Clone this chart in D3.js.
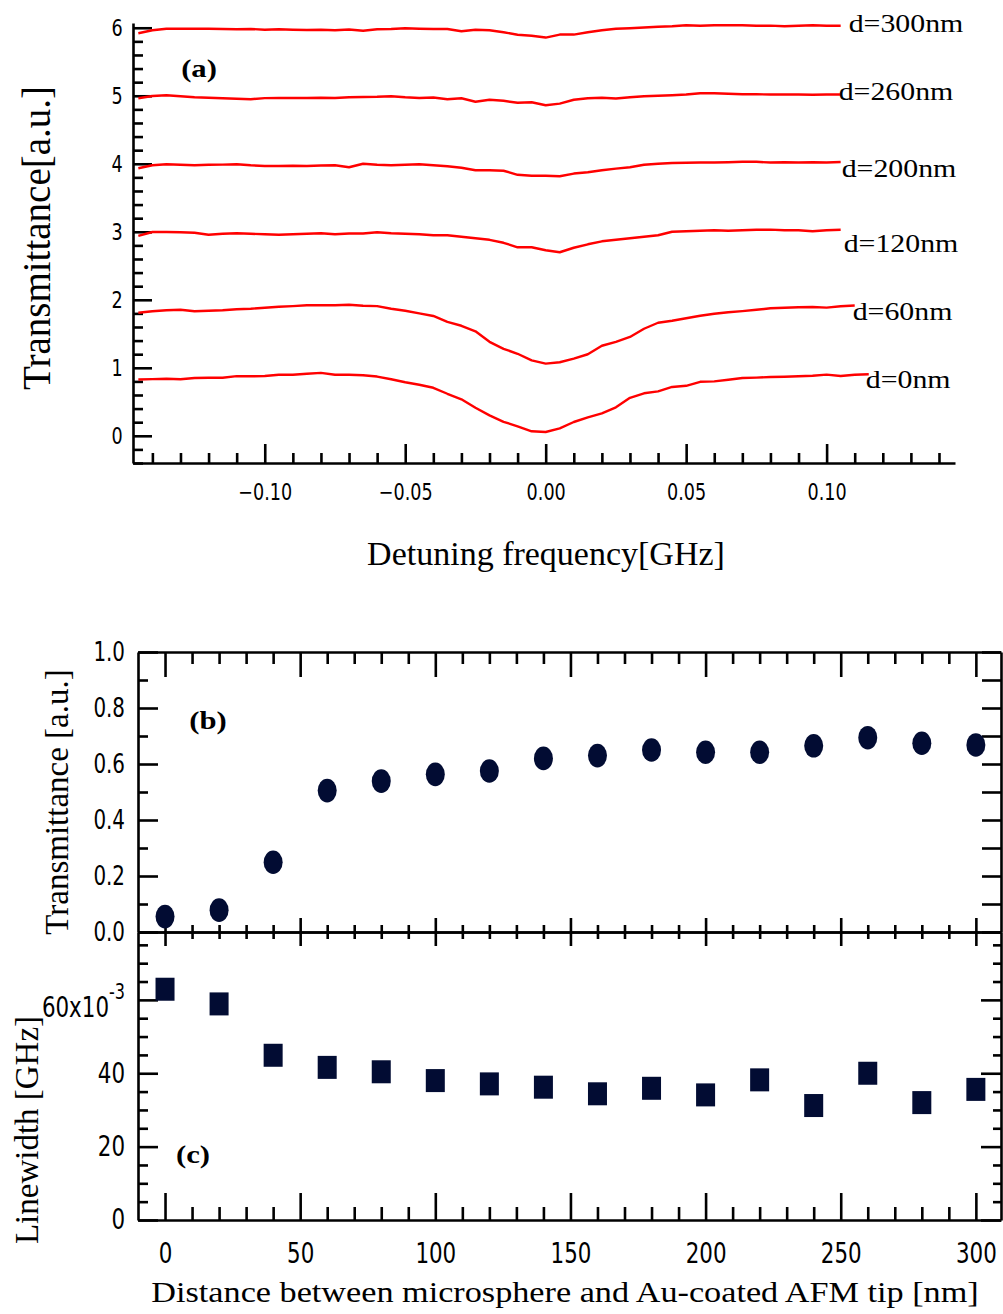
<!DOCTYPE html>
<html>
<head>
<meta charset="utf-8">
<script src="https://cdn.jsdelivr.net/npm/d3@7"></script>
<style>
body { margin: 0; background: #fff; }
svg { display: block; background: #fff; }
.serif { font-family: "Liberation Serif", "Times New Roman", serif; fill: #000; }
</style>
</head>
<body>
<svg width="1003" height="1314"></svg>
<script>
const svg = d3.select('svg');

// ---- panel (a): transmission spectra, offset by 1 per curve ----
const freqGHz = [-0.145,-0.14,-0.135,-0.13,-0.125,-0.12,-0.115,-0.11,-0.105,-0.1,-0.095,-0.09,-0.085,-0.08,-0.075,-0.07,-0.065,-0.06,-0.055,-0.05,-0.045,-0.04,-0.035,-0.03,-0.025,-0.02,-0.015,-0.01,-0.005,0,0.005,0.01,0.015,0.02,0.025,0.03,0.035,0.04,0.045,0.05,0.055,0.06,0.065,0.07,0.075,0.08,0.085,0.09,0.095,0.1,0.105,0.11,0.115];

const d0 = [0.828,0.834,0.838,0.831,0.849,0.853,0.853,0.878,0.875,0.879,0.897,0.897,0.912,0.926,0.897,0.897,0.890,0.871,0.831,0.787,0.750,0.706,0.618,0.537,0.412,0.301,0.206,0.140,0.066,0.056,0.110,0.203,0.272,0.331,0.419,0.559,0.625,0.654,0.718,0.735,0.794,0.801,0.824,0.849,0.856,0.865,0.868,0.875,0.882,0.900,0.879,0.897,0.904];
const d60 = [1.809,1.831,1.846,1.853,1.831,1.838,1.846,1.860,1.868,1.882,1.897,1.907,1.919,1.919,1.919,1.926,1.912,1.907,1.868,1.838,1.801,1.762,1.674,1.618,1.537,1.382,1.279,1.206,1.110,1.062,1.081,1.135,1.199,1.324,1.382,1.453,1.574,1.662,1.691,1.728,1.765,1.794,1.816,1.834,1.853,1.875,1.882,1.890,1.893,1.885,1.904,1.915];
const d120 = [2.941,2.997,2.997,2.993,2.985,2.956,2.971,2.978,2.971,2.963,2.956,2.963,2.971,2.978,2.963,2.974,2.974,2.993,2.978,2.971,2.963,2.949,2.949,2.926,2.904,2.882,2.838,2.772,2.772,2.728,2.699,2.765,2.816,2.860,2.882,2.904,2.926,2.949,3.000,3.007,3.015,3.022,3.015,3.022,3.029,3.032,3.022,3.022,3.007,3.022,3.029];
const d200 = [3.934,3.978,3.993,3.985,3.978,3.985,3.988,3.993,3.978,3.968,3.968,3.971,3.968,3.974,3.978,3.949,4.000,3.985,3.978,3.985,3.993,3.978,3.963,3.941,3.904,3.904,3.897,3.838,3.824,3.824,3.816,3.856,3.875,3.904,3.929,3.949,3.985,4.000,4.012,4.015,4.018,4.018,4.022,4.029,4.029,4.018,4.022,4.018,4.022,4.018,4.026];
const d260 = [4.963,4.996,5.007,4.993,4.978,4.971,4.963,4.956,4.949,4.966,4.968,4.968,4.968,4.971,4.968,4.978,4.982,4.985,4.993,4.978,4.968,4.974,4.949,4.963,4.912,4.941,4.926,4.897,4.904,4.860,4.885,4.941,4.963,4.971,4.959,4.978,4.993,5.000,5.007,5.018,5.037,5.037,5.029,5.022,5.022,5.019,5.018,5.018,5.015,5.018,5.018];
const d300 = [5.919,5.963,5.985,5.985,5.988,5.985,5.981,5.978,5.982,5.971,5.978,5.971,5.966,5.971,5.963,5.975,5.956,5.978,5.981,5.993,5.985,5.981,5.981,5.949,5.971,5.963,5.934,5.897,5.882,5.856,5.900,5.900,5.934,5.963,5.985,5.993,6.003,6.015,6.022,6.037,6.029,6.037,6.037,6.037,6.029,6.032,6.022,6.029,6.037,6.029,6.029];

const spectra = [d0, d60, d120, d200, d260, d300];
const curveLabels = ['d=0nm', 'd=60nm', 'd=120nm', 'd=200nm', 'd=260nm', 'd=300nm'];
// label offset from the end of each curve (px)
const labelDx = [-3, -2, 3, 1, -2, 8];
const labelDy = [14, 14.5, 22, 15, 5.5, 6.2];

// ---- panels (b) and (c) ----
const distNm = [0, 20, 40, 60, 80, 100, 120, 140, 160, 180, 200, 220, 240, 260, 280, 300];
const transB = [0.055, 0.078, 0.249, 0.505, 0.539, 0.563, 0.575, 0.620, 0.630, 0.650, 0.642, 0.642, 0.665, 0.694, 0.674, 0.668];
const linewidthC = [62.9, 58.9, 44.9, 41.6, 40.4, 38.0, 37.1, 36.2, 34.4, 35.9, 34.1, 38.2, 31.2, 40.0, 32.0, 35.6]; // x10^-3 GHz

const narrow = '"Liberation Sans Narrow","Arial Narrow","DejaVu Sans Condensed",sans-serif';
const squeeze = 'scale(0.85,1)';   // tick fonts in the figure are narrower than what we have
const markColor = '#020c33';

function drawAxis(gen, x, y, size) {
    const g = svg.append('g')
        .attr('transform', `translate(${x},${y})`)
        .call(gen)
        .attr('font-family', narrow)
        .attr('font-size', size || 20);
    g.selectAll('path, line').attr('stroke', '#000').attr('stroke-width', 2.6);
    g.selectAll('text').attr('fill', '#000').attr('transform', squeeze).style('font-stretch', 'condensed');
    return g;
}
function minorAxis(gen, x, y) {
    const g = drawAxis(gen.tickFormat(() => ''), x, y);
    g.select('.domain').remove();
}

// scales
const xA = d3.scaleLinear().domain([-0.1469, 0.1457]).range([133, 955]);
const yA = d3.scaleLinear().domain([-0.4, 6.07]).range([463, 23]);

const xB = d3.scaleLinear().domain([-10, 309.3]).range([138, 1001]);
const yB = d3.scaleLinear().domain([0, 1]).range([932, 652]);
const yC = d3.scaleLinear().domain([0, 78.5]).range([1220, 932]);

// panel (a) axes
const aXMajor = [-0.1, -0.05, 0, 0.05, 0.1];
const aXMinor = d3.range(-14, 15).map(i => i / 100).filter(v => Math.round(v * 100) % 5 !== 0);
const aYMinor = d3.range(-2, 31).filter(i => i % 5 !== 0).map(i => i / 5);

drawAxis(d3.axisBottom(xA).tickValues(aXMajor).tickSize(-19).tickSizeOuter(0).tickPadding(21)
    .tickFormat(d3.format('.2f')), 0, 463, 23);
minorAxis(d3.axisBottom(xA).tickValues(aXMinor).tickSize(-10), 0, 463);
drawAxis(d3.axisLeft(yA).tickValues([0, 1, 2, 3, 4, 5, 6]).tickSize(-19).tickSizeOuter(0).tickPadding(12)
    .tickFormat(d3.format('d')), 133, 0, 23);
minorAxis(d3.axisLeft(yA).tickValues(aYMinor).tickSize(-10), 133, 0);

// spectra
const line = d3.line()
    .x((d, i) => xA(freqGHz[i]))
    .y(d => yA(d));

svg.append('g').selectAll('path')
    .data(spectra)
    .join('path')
    .attr('d', line)
    .attr('fill', 'none')
    .attr('stroke', '#ff0000')
    .attr('stroke-width', 2.4)
    .attr('stroke-linejoin', 'round');

spectra.forEach((s, k) => {
    const n = s.length - 1;
    svg.append('g')
        .attr('transform', `translate(${xA(freqGHz[n]) + labelDx[k]},${yA(s[n]) + labelDy[k]}) scale(1.17,1)`)
        .append('text')
        .attr('class', 'serif')
        .attr('font-size', 25.5)
        .text(curveLabels[k]);
});

svg.append('g').attr('transform', 'translate(199,77) scale(1.18,1)')
    .append('text').attr('class', 'serif').attr('font-size', 26).attr('font-weight', 'bold')
    .attr('text-anchor', 'middle').text('(a)');

svg.append('text').attr('class', 'serif')
    .attr('transform', 'translate(50,238) rotate(-90)')
    .attr('text-anchor', 'middle').attr('font-size', 39)
    .text('Transmittance[a.u.]');

svg.append('text').attr('class', 'serif')
    .attr('x', 546).attr('y', 565)
    .attr('font-size', 34)
    .attr('text-anchor', 'middle').text('Detuning frequency[GHz]');

// panel (b)/(c) axes
const dMajor = [0, 50, 100, 150, 200, 250, 300];
const dMinor = d3.range(0, 310, 10).filter(v => v % 50 !== 0);
const cMinor = d3.range(5, 80, 5).filter(v => v % 20 !== 0);

// (b)
drawAxis(d3.axisLeft(yB).tickValues([0, 0.2, 0.4, 0.6, 0.8, 1]).tickSize(-20).tickSizeOuter(0).tickPadding(15.3)
    .tickFormat(d3.format('.1f')), 138, 0, 26);
minorAxis(d3.axisLeft(yB).tickValues([0.1, 0.3, 0.5, 0.7, 0.9]).tickSize(-10), 138, 0);
drawAxis(d3.axisRight(yB).tickValues(d3.range(0, 11).map(i => i / 10)).tickSize(-19).tickSizeOuter(0)
    .tickFormat(() => ''), 1001, 0);
drawAxis(d3.axisTop(xB).tickValues(dMajor).tickSize(-25).tickSizeOuter(0).tickFormat(() => ''), 0, 652);
minorAxis(d3.axisTop(xB).tickValues(dMinor).tickSize(-12), 0, 652);
drawAxis(d3.axisBottom(xB).tickValues(dMajor).tickSize(-14).tickSizeOuter(0).tickFormat(() => ''), 0, 932);
minorAxis(d3.axisBottom(xB).tickValues(dMinor).tickSize(-7), 0, 932);

// (c)
drawAxis(d3.axisTop(xB).tickValues(dMajor).tickSize(-14).tickSizeOuter(0).tickFormat(() => ''), 0, 932);
minorAxis(d3.axisTop(xB).tickValues(dMinor).tickSize(-7), 0, 932);
drawAxis(d3.axisBottom(xB).tickValues(dMajor).tickSize(-27).tickSizeOuter(0).tickPadding(23)
    .tickFormat(d3.format('d')), 0, 1220, 28);
minorAxis(d3.axisBottom(xB).tickValues(dMinor).tickSize(-13), 0, 1220);
drawAxis(d3.axisLeft(yC).tickValues([0, 20, 40, 60]).tickSize(-20).tickSizeOuter(0).tickPadding(15.3)
    .tickFormat(d => d === 60 ? '' : d3.format('d')(d)), 138, 0, 28);
minorAxis(d3.axisLeft(yC).tickValues(cMinor).tickSize(-10), 138, 0);
drawAxis(d3.axisRight(yC).tickValues([0, 20, 40, 60]).tickSize(-20).tickSizeOuter(0).tickFormat(() => ''), 1001, 0);
minorAxis(d3.axisRight(yC).tickValues(cMinor).tickSize(-8), 1001, 0);

// the 60x10^-3 label carries the unit exponent
const lab60 = svg.append('g')
    .attr('transform', `translate(125,${yC(60) + 17}) ${squeeze}`)
    .append('text')
    .attr('text-anchor', 'end')
    .attr('font-family', narrow).style('font-stretch', 'condensed')
    .attr('font-size', 28);
lab60.append('tspan').text('60x10');
lab60.append('tspan').attr('dy', -18).attr('font-size', 21).text('-3');

// markers
svg.append('g').selectAll('ellipse')
    .data(transB)
    .join('ellipse')
    .attr('cx', (d, i) => xB(distNm[i]))
    .attr('cy', d => yB(d))
    .attr('rx', 9.5)
    .attr('ry', 11.8)
    .attr('fill', markColor);

svg.append('g').selectAll('rect')
    .data(linewidthC)
    .join('rect')
    .attr('x', (d, i) => xB(distNm[i]) - 9.5)
    .attr('y', d => yC(d) - 11.5)
    .attr('width', 19)
    .attr('height', 23)
    .attr('fill', markColor);

// panel letters and titles
svg.append('g').attr('transform', 'translate(208,729) scale(1.18,1)')
    .append('text').attr('class', 'serif').attr('font-size', 26).attr('font-weight', 'bold')
    .attr('text-anchor', 'middle').text('(b)');
svg.append('g').attr('transform', 'translate(193,1163) scale(1.18,1)')
    .append('text').attr('class', 'serif').attr('font-size', 26).attr('font-weight', 'bold')
    .attr('text-anchor', 'middle').text('(c)');

svg.append('text').attr('class', 'serif')
    .attr('transform', 'translate(68,802) rotate(-90)')
    .attr('text-anchor', 'middle').attr('font-size', 33)
    .text('Transmittance [a.u.]');
svg.append('text').attr('class', 'serif')
    .attr('transform', 'translate(38,1130) rotate(-90)')
    .attr('text-anchor', 'middle').attr('font-size', 33)
    .text('Linewidth [GHz]');

svg.append('g').attr('transform', 'translate(565,1302) scale(1.18,1)')
    .append('text').attr('class', 'serif').attr('font-size', 29)
    .attr('text-anchor', 'middle').text('Distance between microsphere and Au-coated AFM tip [nm]');
</script>
</body>
</html>
